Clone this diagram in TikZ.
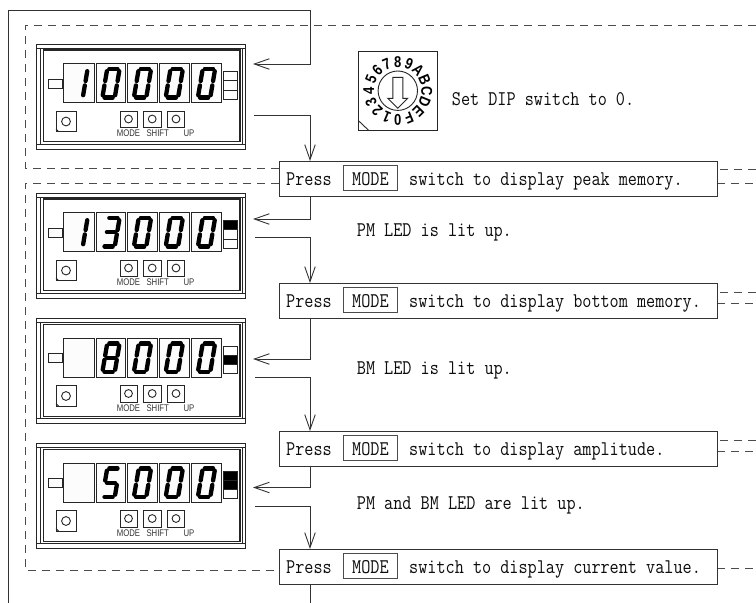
\documentclass[tikz,border=0pt]{standalone}
\usepackage{fontspec}
\usetikzlibrary{arrows.meta}
\newfontfamily\lblfont{Liberation Sans}
\tikzset{
  x=1pt,y=-1pt,
  solidline/.style={draw=black!80,line width=0.95pt},
  frameline/.style={draw=black!85,line width=0.9pt},
  dashline/.style={draw=black!70,line width=0.9pt,dash pattern=on 8pt off 6pt},
  flow/.style={solidline,-{Straight Barb[length=15pt,width=10.5pt,line width=0.9pt]}},
  stepbox/.style={draw=black!80,line width=0.95pt,fill=white,minimum width=438pt,minimum height=35pt,inner sep=0pt},
  modebox/.style={draw=black!70,line width=0.95pt,fill=white,minimum width=54pt,minimum height=25pt,inner sep=0pt},
  monotext/.style={inner sep=0pt,anchor=base west,yscale=1.18,transform shape,font=\ttfamily\fontsize{17.7}{20}\selectfont,text=black!95},
  btnlabel/.style={inner sep=0pt,anchor=base,font=\lblfont\fontsize{8.6}{9}\selectfont,xscale=0.9,yscale=1.12,transform shape,text=black!80},
  dialtext/.style={inner sep=0pt,yscale=1.2,transform shape,font=\lblfont\bfseries\fontsize{13}{13}\selectfont},
  seg/.style={line width=4.3pt,line cap=round,draw=black}
}
% segments of a seven-segment digit
\newcommand{\sA}{\draw[seg] (-4.1,-14.3) -- (4.1,-14.3);}
\newcommand{\sB}{\draw[seg] (6.2,-12) -- (6.2,-2.2);}
\newcommand{\sC}{\draw[seg] (6.2,2.2) -- (6.2,12);}
\newcommand{\sD}{\draw[seg] (-4.1,14.3) -- (4.1,14.3);}
\newcommand{\sE}{\draw[seg] (-6.2,2.2) -- (-6.2,12);}
\newcommand{\sF}{\draw[seg] (-6.2,-12) -- (-6.2,-2.2);}
\newcommand{\sG}{\draw[seg] (-4.1,0) -- (4.1,0);}
\newcommand{\dgtO}{\sA\sB\sC\sD\sE\sF}
\newcommand{\dgtI}{\sB\sC}
\newcommand{\dgtT}{\sA\sB\sC\sD\sG}
\newcommand{\dgtE}{\sA\sB\sC\sD\sE\sF\sG}
\newcommand{\dgtS}{\sA\sC\sD\sF\sG}
\newcommand{\dgtN}{}
% #1 top y, #2..#6 digit contents, #7,#8,#9 LED fills
\newcommand{\meterpanel}[9]{%
\begin{scope}[shift={(0,#1)}]
  \draw[frameline] (36.5,0) rectangle (245,105);
  \draw[frameline] (36.5,4.3) -- (245,4.3);
  \draw[frameline] (36.5,100) -- (245,100);
  \draw[frameline] (40.7,4.3) -- (40.7,100);
  \draw[frameline] (242.7,4.3) -- (242.7,100);
  \draw[frameline,line width=1.1pt] (43.3,6) rectangle (240,97.7);
  % digit cells
  \draw[frameline,fill=black!1] (63.5,19.7) rectangle (94,58.7);
  \draw[frameline,fill=black!1] (96,19.7) rectangle (125.5,58.7);
  \draw[frameline,fill=black!1] (127.5,19.7) rectangle (157,58.7);
  \draw[frameline,fill=black!1] (159,19.7) rectangle (189,58.7);
  \draw[frameline,fill=black!1] (191.5,19.7) rectangle (221,58.7);
  \draw[frameline,fill=black!1] (48.5,35.3) rectangle (62,44.3);
  \begin{scope}[shift={(79,39.2)},xslant=0.17]#2\end{scope}
  \begin{scope}[shift={(111,39.2)},xslant=0.17]#3\end{scope}
  \begin{scope}[shift={(142.5,39.2)},xslant=0.17]#4\end{scope}
  \begin{scope}[shift={(174.3,39.2)},xslant=0.17]#5\end{scope}
  \begin{scope}[shift={(206.5,39.2)},xslant=0.17]#6\end{scope}
  % status LEDs
  \draw[frameline,fill=#7] (223.5,27.7) rectangle (237,36.7);
  \draw[frameline,fill=#8] (223.5,36.7) rectangle (237,46);
  \draw[frameline,fill=#9] (223.5,46) rectangle (237,55);
  % knob
  \draw[frameline] (56,67) rectangle (76,87.7);
  \draw[frameline] (66,77.5) circle (4.4);
  \draw[frameline] (56,85) -- (58.7,87.7);
  % buttons
  \draw[frameline] (120,67) rectangle (137,83.5);
  \draw[frameline] (143.5,67) rectangle (161,83.5);
  \draw[frameline] (167.5,67) rectangle (184.5,83.5);
  \draw[frameline] (128.5,75) circle (3.9);
  \draw[frameline] (152.2,75) circle (3.9);
  \draw[frameline] (176,75) circle (3.9);
  \node[btnlabel] (m#1) at (128.5,92.7) {MODE};
  \node[btnlabel] (s#1) at (157.7,92.7) {SHIFT};
  \node[btnlabel] (u#1) at (189,92.7) {UP};
\end{scope}}
% #1 node name, #2 top y of box, #3 message
\newcommand{\stepline}[3]{%
  \node[stepbox,anchor=north west] (#1) at (279,#2) {};
  \node[modebox] (#1m) at (370,#2+16.5) {};
  \node[monotext] (#1p) at (286,#2+24) {Press};
  \node[monotext] (#1k) at (352,#2+24) {MODE};
  \node[monotext] (#1t) at (409,#2+24) {#3};
}
\begin{document}
\begin{tikzpicture}
\useasboundingbox (0,0) rectangle (756,603);
\fill[white] (0,0) rectangle (756,603);
% dashed loops
\draw[dashline] (279,168) -- (25,168) -- (25,25) -- (756,25);
\draw[dashline] (279,183) -- (25,183) -- (25,570) -- (279,570);
\foreach \ya/\yb in {169/183,292/303,440/451}{
  \draw[dashline] (720,\ya) -- (756,\ya);
  \draw[dashline] (717,\yb) -- (756,\yb);
}
\draw[dashline] (717,568) -- (756,568);
% panels
\meterpanel{44}{\dgtI}{\dgtO}{\dgtO}{\dgtO}{\dgtO}{white}{white}{white}
\meterpanel{193}{\dgtI}{\dgtT}{\dgtO}{\dgtO}{\dgtO}{black}{white}{white}
\meterpanel{318.5}{\dgtN}{\dgtE}{\dgtO}{\dgtO}{\dgtO}{white}{black}{white}
\meterpanel{443.5}{\dgtN}{\dgtS}{\dgtO}{\dgtO}{\dgtO}{black}{black}{white}
% step boxes
\stepline{b1}{161}{switch to display peak memory.}
\stepline{b2}{283}{switch to display bottom memory.}
\stepline{b3}{431}{switch to display amplitude.}
\stepline{b4}{549}{switch to display current value.}
% connector waypoints
\coordinate (top) at (8,603);
\coordinate (p1in) at (253,64);
\coordinate (p1out) at (254,115.7);
\coordinate (p2in) at (253,219);
\coordinate (p2out) at (255,237.7);
\coordinate (p3in) at (253,359);
\coordinate (p3out) at (255,377.5);
\coordinate (p4in) at (253,487.5);
\coordinate (p4out) at (255,506.7);
\coordinate (drop) at (310.3,603);
\draw[flow] (top) -- (8,10) -- (310,10) -- (310,64) -- (p1in);
\draw[flow] (p1out) -- (310,115.7) -- (b1.north west -| 310,161);
\draw[flow] (b1.south west -| 310.5,196) -- (310.5,219) -- (p2in);
\draw[flow] (p2out) -- (310,237.7) -- (b2.north west -| 310,283);
\draw[flow] (b2.south west -| 310.5,318) -- (310.5,359) -- (p3in);
\draw[flow] (p3out) -- (310,377.5) -- (b3.north west -| 310,431);
\draw[flow] (b3.south west -| 310.5,466) -- (310.5,487.5) -- (p4in);
\draw[flow] (p4out) -- (310,506.7) -- (b4.north west -| 310,549);
\draw[solidline] (b4.south west -| 310.3,584) -- (drop);
% rotary switch
\draw[frameline] (358.3,51.7) rectangle (437.3,130.7);
\draw[frameline] (358.3,120.5) -- (369,130.7);
\draw[frameline] (397.8,90.7) circle (19.7);
\draw[frameline,line join=miter] (392.8,77.3) -- (402.8,77.3) -- (402.8,98.3) -- (407.8,98.3) -- (397.8,108.3) -- (387.8,98.3) -- (392.8,98.3) -- cycle;
\foreach \lab [count=\i from 0] in {0,1,2,3,4,5,6,7,8,9,A,B,C,D,E,F}{
  \pgfmathsetmacro{\ang}{270-22.5*\i}
  \pgfmathsetmacro{\rot}{\ang-90}
  \node[rotate=\rot,dialtext] (sw\i) at ({397.8+29*cos(\ang)},{90.7-29*sin(\ang)}) {\lab};
}
% captions
\node[monotext] (cap0) at (451.7,105.7) {Set DIP switch to 0.};
\node[monotext] (cap1) at (356.7,236.7) {PM LED is lit up.};
\node[monotext] (cap2) at (356.7,374.5) {BM LED is lit up.};
\node[monotext] (cap3) at (356.7,509) {PM and BM LED are lit up.};
\end{tikzpicture}
\end{document}
